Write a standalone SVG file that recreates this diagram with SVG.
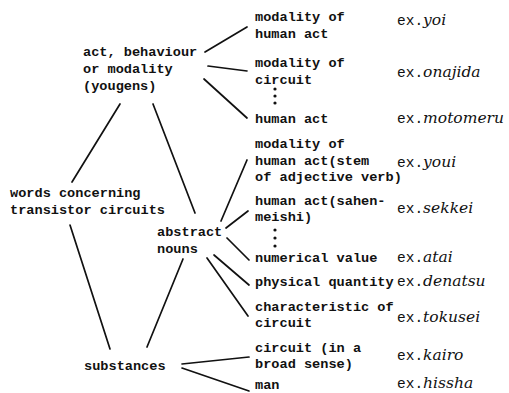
<svg xmlns="http://www.w3.org/2000/svg" width="509" height="393" viewBox="0 0 509 393">
<style>
text{font-family:"Liberation Mono","DejaVu Sans Mono",monospace;font-size:13.6px;font-weight:bold;fill:#111}
.ex{font-weight:normal;font-size:14.5px}
.ex tspan{font-family:"DejaVu Serif","Liberation Serif",serif;font-style:italic;font-size:15.5px}
.c line{stroke:#111;stroke-width:1.7;stroke-linecap:round}
.dot{fill:#111}
</style>
<rect width="509" height="393" fill="#fff"/>
<g class="c" id="connectors">
<line x1="205" y1="52" x2="247" y2="27"/>
<line x1="208" y1="66" x2="247" y2="71"/>
<line x1="204" y1="79" x2="247" y2="118"/>
<line x1="120" y1="104" x2="72" y2="182"/>
<line x1="153" y1="104" x2="195" y2="213"/>
<line x1="70" y1="225" x2="110" y2="349"/>
<line x1="183" y1="259" x2="147" y2="347"/>
<line x1="221" y1="221" x2="247" y2="160"/>
<line x1="226" y1="228" x2="248" y2="211"/>
<line x1="227" y1="238" x2="249" y2="260"/>
<line x1="214" y1="255" x2="249" y2="285"/>
<line x1="207" y1="258" x2="248" y2="316"/>
<line x1="182" y1="364" x2="249" y2="357"/>
<line x1="182" y1="368" x2="249" y2="391"/>
</g>
<g id="yougens"><text x="83" y="56">act, behaviour</text><text x="83" y="73">or modality</text><text x="83" y="90">(yougens)</text></g>
<g id="words"><text x="10" y="197">words concerning</text><text x="10" y="214">transistor circuits</text></g>
<g id="abstract"><text x="157" y="236">abstract</text><text x="157" y="253">nouns</text></g>
<g id="substances"><text x="84" y="370">substances</text></g>
<g id="n1"><text x="255" y="21">modality of</text><text x="255" y="38">human act</text><text class="ex" x="397" y="25">ex.<tspan>yoi</tspan></text></g>
<g id="n2"><text x="255" y="67">modality of</text><text x="255" y="84">circuit</text><text class="ex" x="397" y="77">ex.<tspan>onajida</tspan></text></g>
<g id="dots1"><circle class="dot" cx="275" cy="89" r="1.6"/><circle class="dot" cx="275" cy="96" r="1.6"/><circle class="dot" cx="275" cy="103" r="1.6"/></g>
<g id="n3"><text x="255" y="123">human act</text><text class="ex" x="397" y="123">ex.<tspan>motomeru</tspan></text></g>
<g id="n4"><text x="255" y="148">modality of</text><text x="255" y="165">human act(stem</text><text x="255" y="181">of adjective verb)</text><text class="ex" x="397" y="167">ex.<tspan>youi</tspan></text></g>
<g id="n5"><text x="255" y="205">human act(sahen-</text><text x="255" y="221">meishi)</text><text class="ex" x="397" y="213">ex.<tspan>sekkei</tspan></text></g>
<g id="dots2"><circle class="dot" cx="275" cy="230" r="1.6"/><circle class="dot" cx="275" cy="238" r="1.6"/><circle class="dot" cx="275" cy="246" r="1.6"/></g>
<g id="n6"><text x="255" y="262">numerical value</text><text class="ex" x="397" y="262">ex.<tspan>atai</tspan></text></g>
<g id="n7"><text x="255" y="286">physical quantity</text><text class="ex" x="397" y="286">ex.<tspan>denatsu</tspan></text></g>
<g id="n8"><text x="255" y="311">characteristic of</text><text x="255" y="327">circuit</text><text class="ex" x="397" y="322">ex.<tspan>tokusei</tspan></text></g>
<g id="n9"><text x="255" y="352">circuit (in a</text><text x="255" y="368">broad sense)</text><text class="ex" x="397" y="360">ex.<tspan>kairo</tspan></text></g>
<g id="n10"><text x="255" y="389">man</text><text class="ex" x="397" y="388">ex.<tspan>hissha</tspan></text></g>
</svg>
